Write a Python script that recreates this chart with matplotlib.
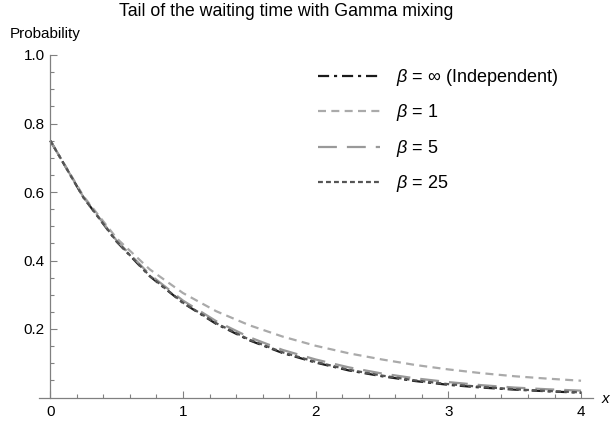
import matplotlib
matplotlib.use("Agg")
import matplotlib.pyplot as plt

plt.rcParams['font.family'] = ['Liberation Sans', 'DejaVu Sans']
plt.rcParams['mathtext.fontset'] = 'custom'
plt.rcParams['mathtext.it'] = 'Liberation Sans:italic'
plt.rcParams['mathtext.rm'] = 'Liberation Sans'

# values
x = [0, 0.25, 0.5, 0.75, 1.0, 1.25, 1.5, 1.75, 2.0, 2.25, 2.5, 2.75, 3.0, 3.25, 3.5, 3.75, 4.0]
indep = [0.750, 0.584, 0.455, 0.354, 0.276, 0.215, 0.167, 0.130, 0.102, 0.079, 0.062, 0.048, 0.037, 0.029, 0.023, 0.018, 0.014]
beta1 = [0.750, 0.588, 0.465, 0.374, 0.305, 0.252, 0.211, 0.178, 0.151, 0.129, 0.111, 0.095, 0.082, 0.071, 0.062, 0.055, 0.049]
beta5 = [0.750, 0.585, 0.458, 0.359, 0.283, 0.223, 0.176, 0.139, 0.111, 0.088, 0.070, 0.056, 0.045, 0.036, 0.029, 0.024, 0.020]
beta25 = [0.750, 0.584, 0.456, 0.355, 0.277, 0.217, 0.169, 0.132, 0.104, 0.081, 0.064, 0.050, 0.039, 0.031, 0.024, 0.019, 0.015]

labels = [r'$\beta$ = ∞ (Independent)', r'$\beta$ = 1', r'$\beta$ = 5', r'$\beta$ = 25']
xticks = [0, 1, 2, 3, 4]
yticks = [0.2, 0.4, 0.6, 0.8, 1.0]

fig = plt.figure(figsize=(6.14, 4.25), dpi=100)
ax = fig.add_axes([39/614, 27.5/425, 554/614, 342.5/425])

ax.plot(x, indep, color='#1a1a1a', lw=1.6, dashes=(5, 2.2, 1.4, 2.2), label=labels[0])
ax.plot(x, beta1, color='#aaaaaa', lw=1.6, dashes=(3.6, 2.4), label=labels[1])
ax.plot(x, beta5, color='#999999', lw=1.6, dashes=(8.5, 4.5), label=labels[2])
ax.plot(x, beta25, color='#555555', lw=1.6, dashes=(2.2, 1.4), label=labels[3])

ax.set_xlim(-0.085, 4.09)
ax.set_ylim(0, 1.0)
for s in ['top', 'right']:
    ax.spines[s].set_visible(False)
ax.spines['left'].set_position(('data', 0))
for s in ['left', 'bottom']:
    ax.spines[s].set_color('#808080')
    ax.spines[s].set_linewidth(0.9)

ax.set_xticks(xticks)
ax.set_xticklabels([str(t) for t in xticks])
ax.set_xticks([i * 0.2 for i in range(21)], minor=True)
ax.set_yticks(yticks)
ax.set_yticklabels(['%.1f' % t for t in yticks])
ax.set_yticks([i * 0.05 for i in range(1, 21)], minor=True)
ax.tick_params(which='both', direction='in', color='#808080', width=0.8, labelsize=11)
ax.tick_params(axis='x', pad=5.5)
ax.tick_params(axis='y', pad=4)
ax.tick_params(which='major', length=5)
ax.tick_params(which='minor', length=3)

fig.text(286/614, 1 - 12/425, 'Tail of the waiting time with Gamma mixing', ha='center', va='center', fontsize=12.8)
fig.text(10/614, 1 - 34/425, 'Probability', ha='left', va='center', fontsize=11)
fig.text(605/614, 1 - 399/425, 'x', ha='center', va='center', fontsize=11, style='italic')

leg = ax.legend(loc='upper left', bbox_to_anchor=(318/614, 1 - 67/425), bbox_transform=fig.transFigure,
                frameon=False, fontsize=13, handlelength=3.45, handletextpad=0.85, labelspacing=0.8,
                borderpad=0, borderaxespad=0)

fig.savefig('out.png', dpi=100)
